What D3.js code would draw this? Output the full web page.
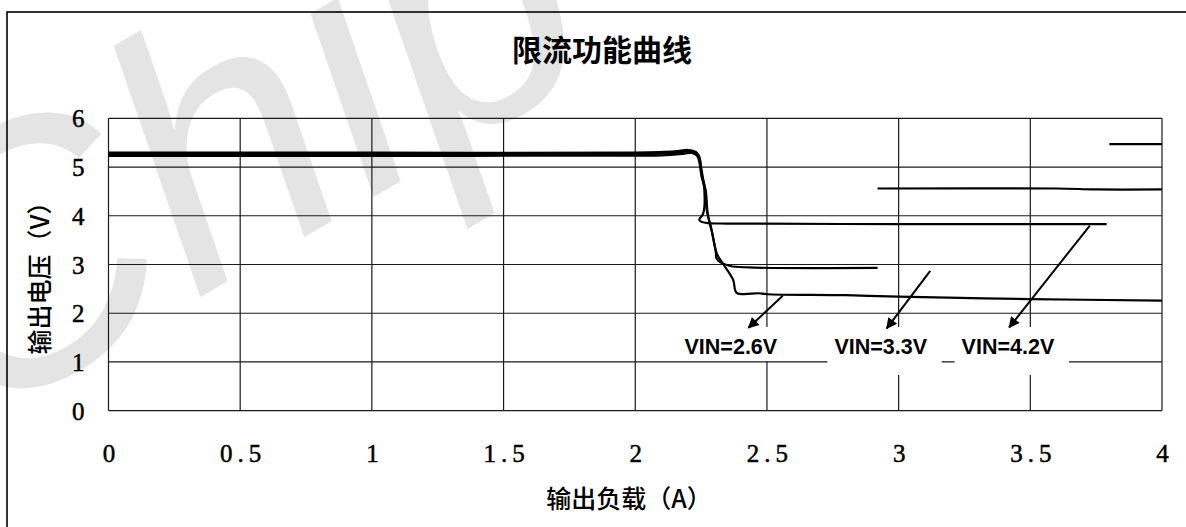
<!DOCTYPE html>
<html>
<head>
<meta charset="utf-8">
<script src="https://cdn.jsdelivr.net/npm/d3@7"></script>
<style>
  html, body { margin: 0; padding: 0; background: #fff; }
  svg { display: block; }
</style>
</head>
<body>
<svg id="chart" width="1186" height="527"></svg>
<script>
const xTicks = [0, 0.5, 1, 1.5, 2, 2.5, 3, 3.5, 4];
const yTicks = [0, 1, 2, 3, 4, 5, 6];

// [load A, output V]
const curveVin26 = [
  [0, 5.23], [1.0, 5.23], [2.0, 5.235], [2.1, 5.24], [2.18, 5.27], [2.215, 5.29],
  [2.235, 5.23], [2.245, 5.05], [2.252, 4.8], [2.265, 4.55], [2.272, 4.1],
  [2.29, 3.7], [2.31, 3.22], [2.335, 3.0], [2.372, 2.68], [2.385, 2.42],
  [2.47, 2.41], [2.5, 2.39], [2.8, 2.37], [3.0, 2.34], [3.5, 2.29], [4.0, 2.26]
];
const curveVin33 = [
  [0, 5.265], [1.0, 5.265], [2.0, 5.265], [2.15, 5.29], [2.21, 5.32], [2.24, 5.25],
  [2.25, 5.0], [2.258, 4.75], [2.268, 4.5], [2.275, 4.05], [2.29, 3.7],
  [2.306, 3.25], [2.308, 3.13], [2.322, 3.05], [2.36, 2.97], [2.43, 2.94], [2.92, 2.93]
];
const curveVin42 = [
  [0, 5.295], [1.0, 5.295], [2.0, 5.295], [2.15, 5.32], [2.2, 5.35], [2.23, 5.31],
  [2.245, 5.15], [2.25, 4.9], [2.262, 4.55], [2.258, 4.05], [2.243, 3.92],
  [2.25, 3.88], [2.275, 3.85], [2.35, 3.84], [3.0, 3.83], [3.79, 3.83]
];
const segmentMid = [[2.92, 4.56], [3.6, 4.56], [3.75, 4.54], [4.0, 4.54]];
const segmentTop = [[3.8, 5.47], [4.0, 5.47]];

const labelNames = ["VIN=2.6V", "VIN=3.3V", "VIN=4.2V"];
const arrowFrom = [[2.56, 2.36], [3.12, 2.87], [3.726, 3.8]];
const arrowTo = [[2.43, 1.7], [2.955, 1.69], [3.42, 1.71]];
const labelAt = [[2.363, 1.16], [2.932, 1.16], [3.415, 1.16]];

const width = 1186;
const height = 527;
const plot = { left: 108.5, right: 1162, top: 118.3, bottom: 410.7 };

const svg = d3.select("#chart");

const x = d3.scaleLinear().domain([0, 4]).range([plot.left, plot.right]);
const y = d3.scaleLinear().domain([0, 6]).range([plot.bottom, plot.top]);

// watermark behind everything
svg.append("text")
  .attr("transform", "translate(-30,430) rotate(-30)")
  .attr("font-family", "Liberation Sans, Arial, sans-serif")
  .attr("font-style", "italic")
  .attr("font-size", 360)
  .attr("fill", "#e4e4e4")
  .text("Chip");

// outer frame (cropped at right and bottom)
svg.append("rect")
  .attr("x", 7).attr("y", 12)
  .attr("width", width + 20).attr("height", height + 20)
  .attr("fill", "none")
  .attr("stroke", "#000")
  .attr("stroke-width", 1.6);

svg.append("text")
  .attr("x", 602).attr("y", 47.5)
  .attr("text-anchor", "middle")
  .attr("dominant-baseline", "central")
  .attr("font-family", "Noto Sans CJK SC, sans-serif")
  .attr("font-size", 30)
  .attr("font-weight", 700)
  .text("限流功能曲线");

// grid
const grid = svg.append("g").attr("stroke", "#1a1a1a").attr("stroke-width", 1.2);
grid.selectAll("line.v").data(xTicks).join("line")
  .attr("class", "v")
  .attr("x1", (d) => x(d)).attr("x2", (d) => x(d))
  .attr("y1", plot.top).attr("y2", plot.bottom);
grid.selectAll("line.h").data(yTicks).join("line")
  .attr("class", "h")
  .attr("x1", plot.left).attr("x2", plot.right)
  .attr("y1", (d) => y(d)).attr("y2", (d) => y(d));

// tick labels via d3 axes, domain and tick lines hidden
const xAxis = svg.append("g")
  .attr("transform", `translate(2.5,${plot.bottom})`)
  .call(d3.axisBottom(x).tickValues(xTicks).tickSize(0).tickPadding(0).tickFormat(d3.format("")));
const yAxis = svg.append("g")
  .attr("transform", `translate(${plot.left},0)`)
  .call(d3.axisLeft(y).tickValues(yTicks).tickSize(0).tickPadding(0).tickFormat(d3.format("d")));

[xAxis, yAxis].forEach((g) => {
  g.select(".domain").remove();
  g.selectAll("text")
    .attr("font-family", "Liberation Serif, Times New Roman, serif")
    .attr("font-size", 25)
    .attr("fill", "#000")
    .attr("stroke", "#000")
    .attr("stroke-width", 0.5);
});
xAxis.selectAll("text").attr("dy", null).attr("y", 51).attr("letter-spacing", 5);
yAxis.selectAll("text").attr("dy", null).attr("x", -24).attr("y", 8.5);

svg.append("text")
  .attr("x", 629).attr("y", 497)
  .attr("text-anchor", "middle")
  .attr("dominant-baseline", "central")
  .attr("font-family", "Noto Sans CJK SC, sans-serif")
  .attr("font-size", 25)
  .attr("font-weight", 500)
  .text("输出负载（A）");

svg.append("text")
  .attr("transform", "translate(38,272) rotate(-90)")
  .attr("text-anchor", "middle")
  .attr("dominant-baseline", "central")
  .attr("font-family", "Noto Sans CJK SC, sans-serif")
  .attr("font-size", 25)
  .attr("font-weight", 500)
  .text("输出电压（V）");

// curves
const line = d3.line()
  .x((d) => x(d[0]))
  .y((d) => y(d[1]))
  .curve(d3.curveCatmullRom.alpha(0.5));

svg.append("g")
  .selectAll("path")
  .data([curveVin26, curveVin33, curveVin42, segmentMid, segmentTop])
  .join("path")
  .attr("d", line)
  .attr("fill", "none")
  .attr("stroke", "#000")
  .attr("stroke-width", 2.2)
  .attr("stroke-linejoin", "round");

// annotations
svg.append("defs").append("marker")
  .attr("id", "arrow")
  .attr("viewBox", "0 -5 10 10")
  .attr("refX", 9).attr("refY", 0)
  .attr("markerUnits", "userSpaceOnUse")
  .attr("markerWidth", 14).attr("markerHeight", 11)
  .attr("orient", "auto")
  .append("path").attr("d", "M0,-5L10,0L0,5Z").attr("fill", "#000");

const boxBottoms = [361, 375, 375];
const notes = svg.append("g");
labelNames.forEach((name, i) => {
  const t = notes.append("text")
    .attr("x", x(labelAt[i][0])).attr("y", y(labelAt[i][1]))
    .attr("text-anchor", "middle")
    .attr("font-family", "Liberation Sans, Arial, sans-serif")
    .attr("font-weight", 700)
    .attr("font-size", 21.5)
    .attr("fill", "#000")
    .text(name);
  const b = t.node().getBBox();
  notes.insert("rect", "text")
    .attr("x", b.x - 7).attr("y", 327)
    .attr("width", b.width + 21).attr("height", boxBottoms[i] - 327)
    .attr("fill", "#fff");
  notes.append("line")
    .attr("x1", x(arrowFrom[i][0])).attr("y1", y(arrowFrom[i][1]))
    .attr("x2", x(arrowTo[i][0])).attr("y2", y(arrowTo[i][1]))
    .attr("stroke", "#000")
    .attr("stroke-width", 2)
    .attr("marker-end", "url(#arrow)");
});
</script>
</body>
</html>
